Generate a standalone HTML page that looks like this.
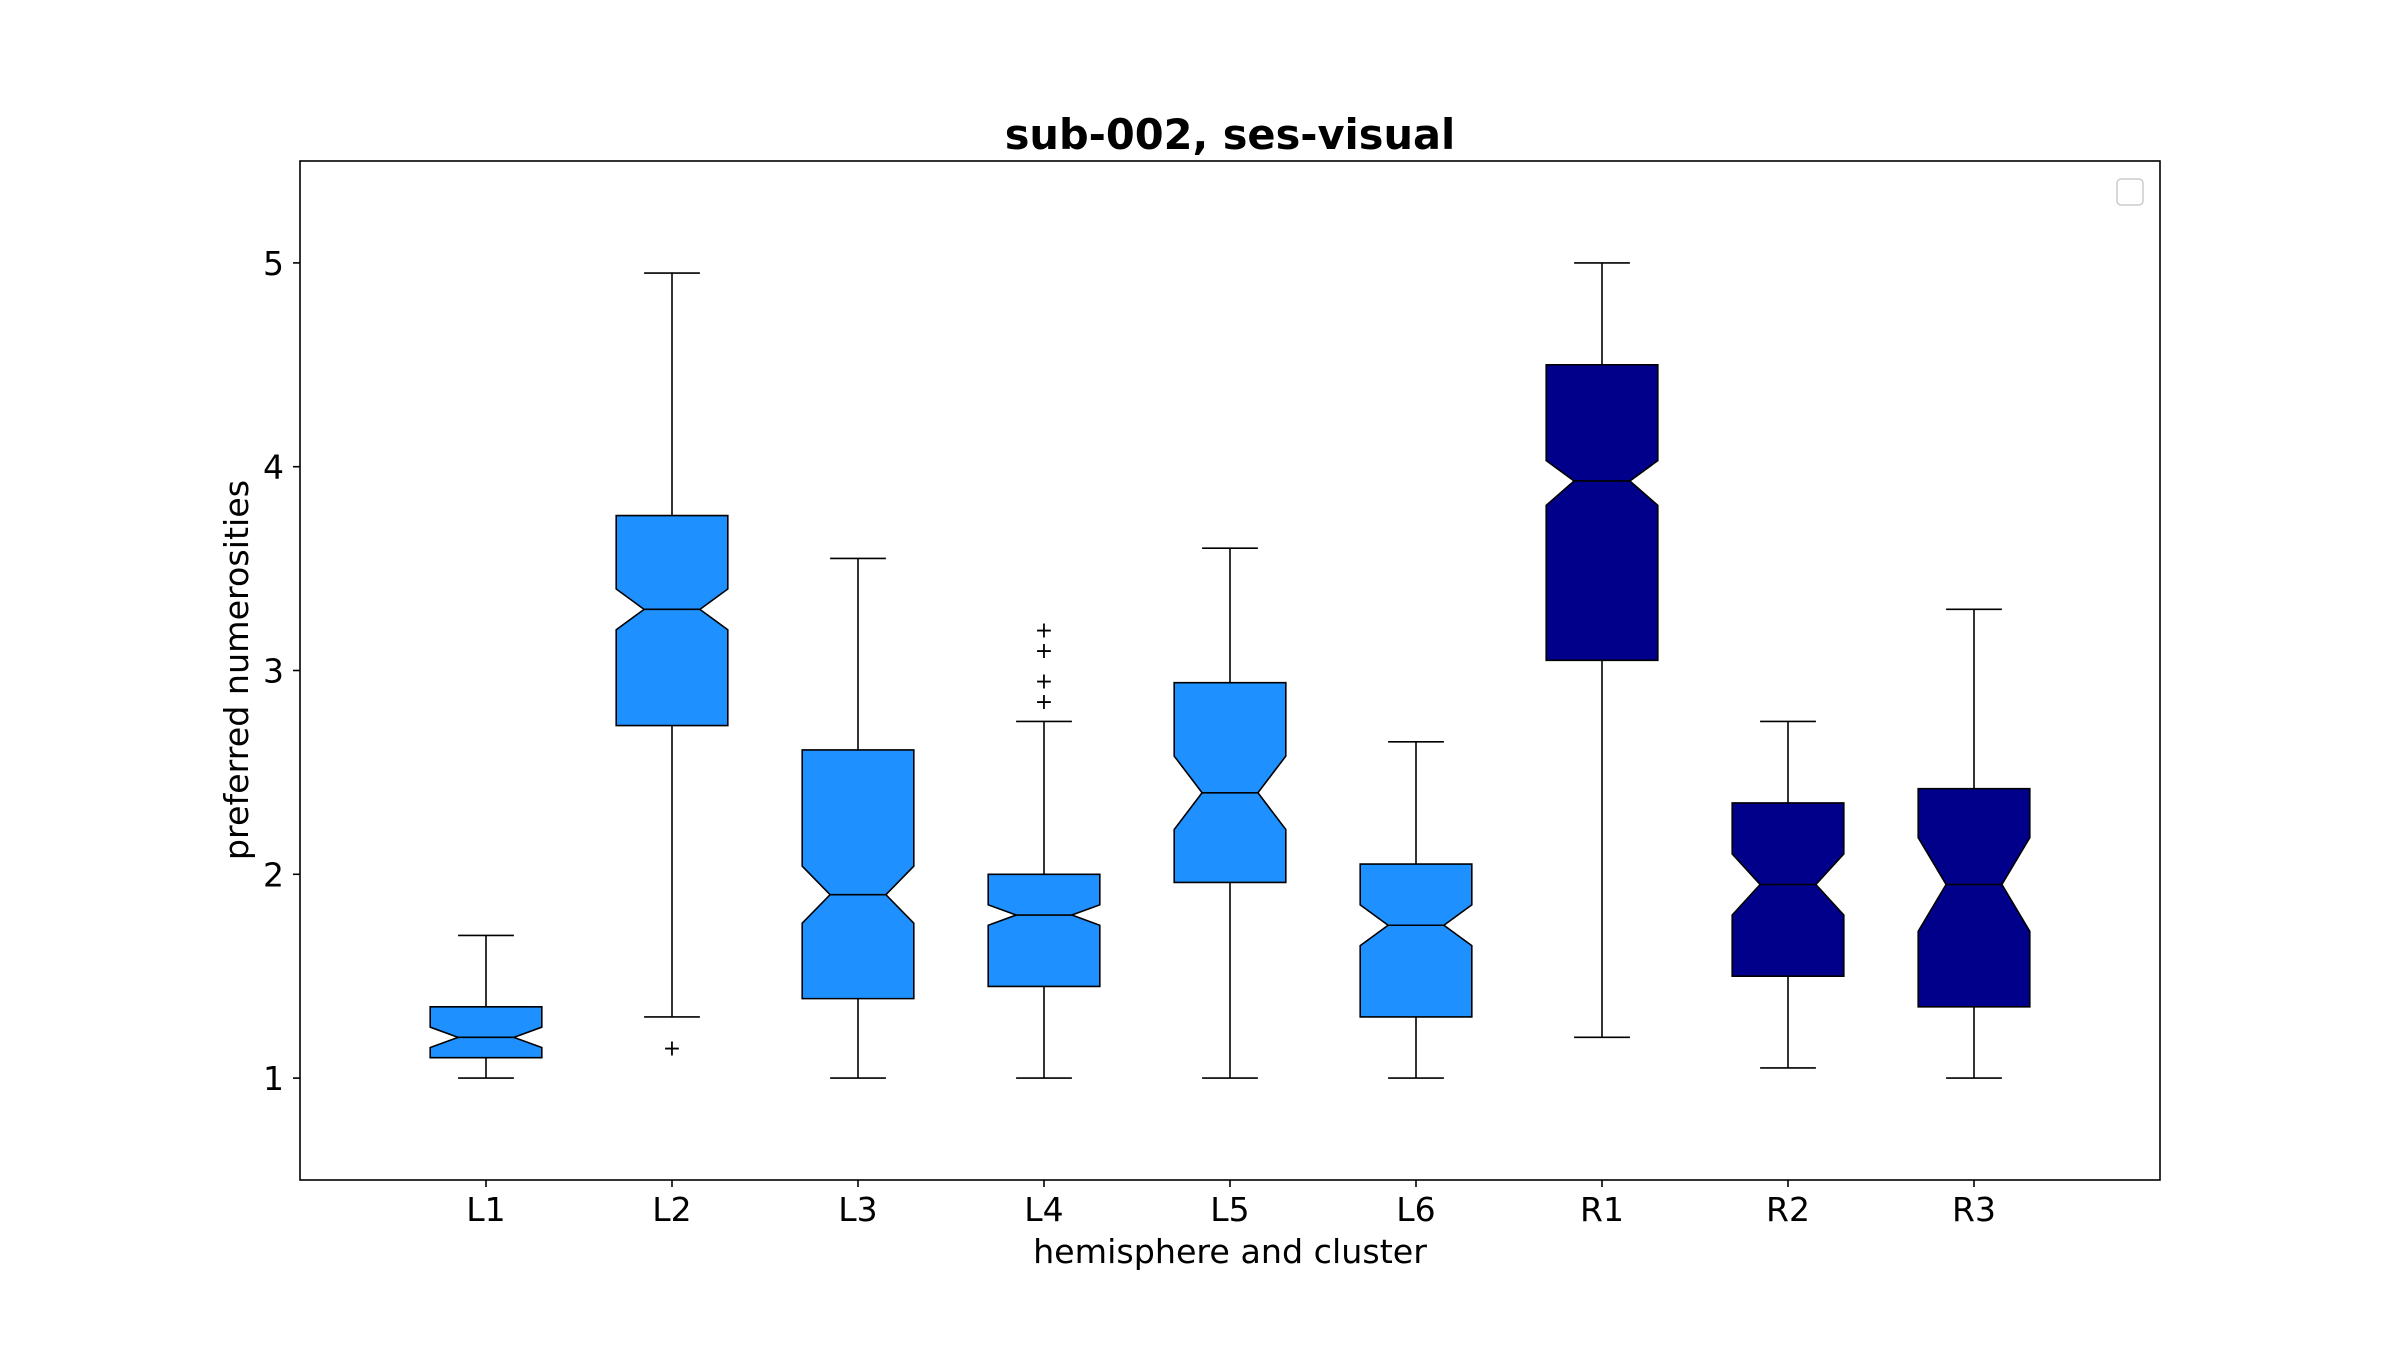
<!DOCTYPE html>
<html><head><meta charset="utf-8">
<style>
html,body{margin:0;padding:0;background:#fff;}
svg{display:block;font-family:"DejaVu Sans","Liberation Sans",sans-serif;}
</style></head>
<body>
<svg id="chart" width="2400" height="1350" viewBox="0 0 2400 1350" xmlns="http://www.w3.org/2000/svg">
<rect x="0" y="0" width="2400" height="1350" fill="#fff"/>
<text x="1230" y="149" font-size="41.5" font-weight="bold" text-anchor="middle">sub-002, ses-visual</text>
<text x="1230" y="1263" font-size="33.3" text-anchor="middle">hemisphere and cluster</text>
<text x="0" y="0" font-size="33.3" text-anchor="middle" transform="translate(248,670) rotate(-90)">preferred numerosities</text>
<g id="marks"></g>
<rect x="300" y="161" width="1860" height="1019" fill="none" stroke="#000" stroke-width="1.6"/>
<rect x="2117" y="179" width="26" height="26" rx="4" fill="#fff" stroke="#ccc" stroke-width="1.5"/>
</svg>
<script>
const categories = ["L1","L2","L3","L4","L5","L6","R1","R2","R3"];
const whiskerLow = [1.0,1.3,1.0,1.0,1.0,1.0,1.2,1.05,1.0];
const q1 = [1.1,2.73,1.39,1.45,1.96,1.3,3.05,1.5,1.35];
const medians = [1.2,3.3,1.9,1.8,2.4,1.75,3.93,1.95,1.95];
const q3 = [1.35,3.76,2.61,2.0,2.94,2.05,4.5,2.35,2.42];
const whiskerHigh = [1.7,4.95,3.55,2.75,3.6,2.65,5.0,2.75,3.3];
const notchLow = [1.15,3.2,1.76,1.75,2.22,1.65,3.81,1.8,1.72];
const notchHigh = [1.25,3.4,2.04,1.85,2.58,1.85,4.03,2.1,2.18];
const fliers = [[],[1.15],[],[2.85,2.95,3.1,3.2],[],[],[],[],[]];
const boxColors = ["#1e90ff","#1e90ff","#1e90ff","#1e90ff","#1e90ff","#1e90ff","#00008b","#00008b","#00008b"];
const yTicks = [1,2,3,4,5];

const L=300,R=2160,T=161,B=1180;
const xS = v => L + (v/10)*(R-L);
const yS = v => B - (v-0.5)/5*(B-T);
const NS="http://www.w3.org/2000/svg";
const g=document.getElementById('marks');
function mk(tag,attrs){const e=document.createElementNS(NS,tag);for(const k in attrs)e.setAttribute(k,attrs[k]);g.appendChild(e);return e;}

yTicks.forEach(t=>{
  const y=yS(t);
  const tk=mk('line',{x1:L-7,x2:L,y1:y,y2:y,stroke:'#000','stroke-width':1.6});
  
  
  const lb=mk('text',{x:L-16,y:y+12,'font-size':33,'text-anchor':'end'});
  lb.textContent=t;
  
  
});

categories.forEach((c,i)=>{
  const cx=xS(i+1), w=(R-L)/10*0.6, hw=w/2, cw=w/4, nw=w/4;
  const tk=mk('line',{x1:cx,x2:cx,y1:B,y2:B+7,stroke:'#000','stroke-width':1.6});
  
  
  const lb=mk('text',{x:cx,y:B+41,'font-size':33,'text-anchor':'middle'});
  lb.textContent=c;
  
  
  const w1=mk('line',{x1:cx,x2:cx,y1:yS(q1[i]),y2:yS(whiskerLow[i]),stroke:'#000','stroke-width':1.6});
  
  
  const w2=mk('line',{x1:cx,x2:cx,y1:yS(q3[i]),y2:yS(whiskerHigh[i]),stroke:'#000','stroke-width':1.6});
  
  
  const c1=mk('line',{x1:cx-cw,x2:cx+cw,y1:yS(whiskerLow[i]),y2:yS(whiskerLow[i]),stroke:'#000','stroke-width':1.6});
  
  
  const c2=mk('line',{x1:cx-cw,x2:cx+cw,y1:yS(whiskerHigh[i]),y2:yS(whiskerHigh[i]),stroke:'#000','stroke-width':1.6});
  
  
  const l=cx-hw, r=cx+hw;
  const pts=[[l,yS(q1[i])],[r,yS(q1[i])],[r,yS(notchLow[i])],[r-nw,yS(medians[i])],[r,yS(notchHigh[i])],[r,yS(q3[i])],
             [l,yS(q3[i])],[l,yS(notchHigh[i])],[l+nw,yS(medians[i])],[l,yS(notchLow[i])]];
  const bx=mk('polygon',{points:pts.map(p=>p.join(',')).join(' '),fill:boxColors[i],stroke:'#000','stroke-width':1.6});
  
  
  const md=mk('line',{x1:l+nw,x2:r-nw,y1:yS(medians[i]),y2:yS(medians[i]),stroke:'#000','stroke-width':1.6});
  
  
  fliers[i].forEach(f=>{
    const fl=mk('text',{x:cx,y:yS(f)+8,'font-size':22,'text-anchor':'middle'});
    fl.textContent='+';
    
    
  });
});
</script>
</body></html>
